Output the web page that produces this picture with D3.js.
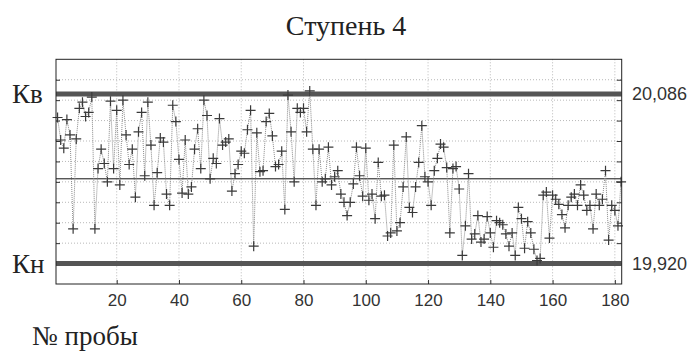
<!DOCTYPE html>
<html>
<head>
<meta charset="utf-8">
<script src="https://cdn.jsdelivr.net/npm/d3@7"></script>
<style>
  body { margin: 0; background: #fff; }
  svg { display: block; }
</style>
</head>
<body>
<figure id="chart" style="margin:0"></figure>
<script>
// sample values, one per probe (1..182)
const values = [
  20.063, 20.041, 20.033, 20.061, 20.046, 19.954, 20.042, 20.072, 20.078, 20.064,
  20.068, 20.083, 19.954, 20.013, 20.032, 20.018, 20.000, 20.079, 20.013, 20.070,
  19.997, 20.080, 20.046, 20.017, 20.032, 19.985, 20.049, 20.068, 20.006, 20.078,
  20.036, 19.977, 20.009, 20.043, 20.039, 19.988, 19.977, 20.075, 20.059, 20.022,
  19.989, 20.041, 19.988, 19.995, 20.032, 20.052, 20.013, 20.080, 20.065, 20.003,
  20.023, 20.018, 20.062, 20.036, 20.039, 20.042, 19.991, 20.008, 20.017, 20.030,
  20.028, 20.051, 20.070, 19.937, 20.048, 20.010, 20.011, 20.059, 20.067, 20.045,
  20.015, 20.017, 20.030, 19.973, 20.085, 20.049, 20.000, 20.072, 20.068, 20.072,
  20.049, 20.089, 20.032, 19.977, 20.032, 20.000, 20.003, 20.034, 19.997, 20.005,
  20.011, 19.988, 19.980, 19.967, 19.980, 19.998, 20.034, 20.006, 19.986, 20.033,
  19.982, 19.988, 19.964, 20.019, 19.986, 19.987, 19.947, 19.950, 20.036, 19.952,
  19.960, 19.995, 20.044, 19.975, 19.970, 19.995, 20.019, 20.055, 20.005, 20.000,
  19.977, 20.011, 20.023, 20.037, 20.034, 20.014, 19.950, 20.013, 20.015, 19.993,
  19.928, 19.957, 20.008, 19.944, 19.949, 19.967, 19.941, 19.944, 19.966, 19.950,
  19.936, 19.962, 19.960, 19.958, 19.949, 19.937, 19.950, 19.928, 19.975, 19.964,
  19.935, 19.961, 19.950, 19.934, 19.923, 19.925, 19.987, 19.990, 19.945, 19.987,
  19.983, 19.978, 19.968, 19.955, 19.977, 19.985, 19.988, 19.977, 19.997, 19.987,
  19.972, 19.977, 19.954, 19.988, 19.977, 19.983, 20.011, 19.943, 19.977, 19.972,
  19.957, 20.000
];
const xTicks = [20, 40, 60, 80, 100, 120, 140, 160, 180];
const yGrid = [19.92, 19.94, 19.96, 19.98, 20.00, 20.02, 20.04, 20.06, 20.08, 20.10];
const upperLimit = 20.086;
const lowerLimit = 19.920;
const centerLine = 20.003;
const limitLabels = ["20,086", "19,920"];

const width = 689, height = 354;
const plotLeft = 56, plotRight = 621.7, plotTop = 59.3, plotBottom = 284;

const svg = d3.select("figure#chart")
  .append("svg")
  .attr("width", width)
  .attr("height", height);

const x = d3.scaleLinear().domain([0.5, 182.2]).range([plotLeft, plotRight]);
const y = d3.scaleLinear().domain([19.90, 20.12]).range([plotBottom, plotTop]);

// dotted grid
svg.append("g")
  .selectAll("line")
  .data(yGrid)
  .enter()
  .append("line")
  .attr("x1", plotLeft).attr("x2", plotRight)
  .attr("y1", d => y(d)).attr("y2", d => y(d))
  .attr("stroke", "#b8b8b8")
  .attr("stroke-dasharray", "1,2");

svg.append("g")
  .selectAll("line")
  .data(xTicks)
  .enter()
  .append("line")
  .attr("x1", d => x(d)).attr("x2", d => x(d))
  .attr("y1", plotTop).attr("y2", plotBottom)
  .attr("stroke", "#b8b8b8")
  .attr("stroke-dasharray", "1,2");

// x axis, ticks pointing inward
const xAxis = svg.append("g")
  .attr("transform", "translate(0," + plotBottom + ")")
  .call(d3.axisBottom(x).tickValues(xTicks).tickSize(-4).tickPadding(10));
xAxis.select(".domain").remove();
xAxis.selectAll("text")
  .attr("font-family", "Liberation Sans, Arial, sans-serif")
  .attr("font-size", 17)
  .attr("fill", "#333");

// left / right inner ticks without labels
const yl = svg.append("g")
  .attr("transform", "translate(" + plotLeft + ",0)")
  .call(d3.axisLeft(y).tickValues(yGrid).tickSize(-4).tickFormat(""));
yl.select(".domain").remove();
const yr = svg.append("g")
  .attr("transform", "translate(" + plotRight + ",0)")
  .call(d3.axisRight(y).tickValues(yGrid).tickSize(-5).tickFormat(""));
yr.select(".domain").remove();
svg.selectAll(".tick line").attr("stroke", "#333");

// control limits
svg.selectAll("limits")
  .data([upperLimit, lowerLimit])
  .enter()
  .append("line")
  .attr("x1", plotLeft).attr("x2", plotRight)
  .attr("y1", d => y(d)).attr("y2", d => y(d))
  .attr("stroke", "#555")
  .attr("stroke-width", 5);

svg.append("line")
  .attr("x1", plotLeft).attr("x2", plotRight)
  .attr("y1", y(centerLine)).attr("y2", y(centerLine))
  .attr("stroke", "#111")
  .attr("stroke-width", 1);

// series line
const line = d3.line()
  .x((d, i) => x(i + 1))
  .y(d => y(d));

svg.append("path")
  .datum(values)
  .attr("d", line)
  .attr("fill", "none")
  .attr("stroke", "#8a8a8a")
  .attr("stroke-width", 1)
  .attr("stroke-dasharray", "1,1");

// plus markers
svg.append("g")
  .selectAll("path")
  .data(values)
  .enter()
  .append("path")
  .attr("d", (d, i) => {
    const cx = x(i + 1), cy = y(d), r = 5;
    return "M" + (cx - r) + "," + cy + "H" + (cx + r) + "M" + cx + "," + (cy - r) + "V" + (cy + r);
  })
  .attr("stroke", "#3a3a3a")
  .attr("stroke-width", 1.2);

// frame
svg.append("rect")
  .attr("x", plotLeft).attr("y", plotTop)
  .attr("width", plotRight - plotLeft).attr("height", plotBottom - plotTop)
  .attr("fill", "none")
  .attr("stroke", "#222")
  .attr("stroke-width", 1);

// texts
const serif = "Liberation Serif, Times New Roman, serif";
svg.append("text")
  .attr("x", 346).attr("y", 35)
  .attr("text-anchor", "middle")
  .attr("font-family", serif).attr("font-size", 28)
  .attr("fill", "#222")
  .text("Ступень 4");

svg.append("text")
  .attr("x", 12).attr("y", y(upperLimit) + 9)
  .attr("font-family", serif).attr("font-size", 27)
  .attr("fill", "#222")
  .text("Кв");

svg.append("text")
  .attr("x", 12).attr("y", y(lowerLimit) + 9)
  .attr("font-family", serif).attr("font-size", 27)
  .attr("fill", "#222")
  .text("Кн");

svg.selectAll("limitText")
  .data([upperLimit, lowerLimit])
  .enter()
  .append("text")
  .attr("x", 632)
  .attr("y", d => y(d) + 6)
  .attr("font-family", "Liberation Sans, Arial, sans-serif")
  .attr("font-size", 18)
  .attr("fill", "#333")
  .text((d, i) => limitLabels[i]);

svg.append("text")
  .attr("x", 32).attr("y", 345)
  .attr("font-family", serif).attr("font-size", 27)
  .attr("fill", "#222")
  .text("№ пробы");
</script>
</body>
</html>
